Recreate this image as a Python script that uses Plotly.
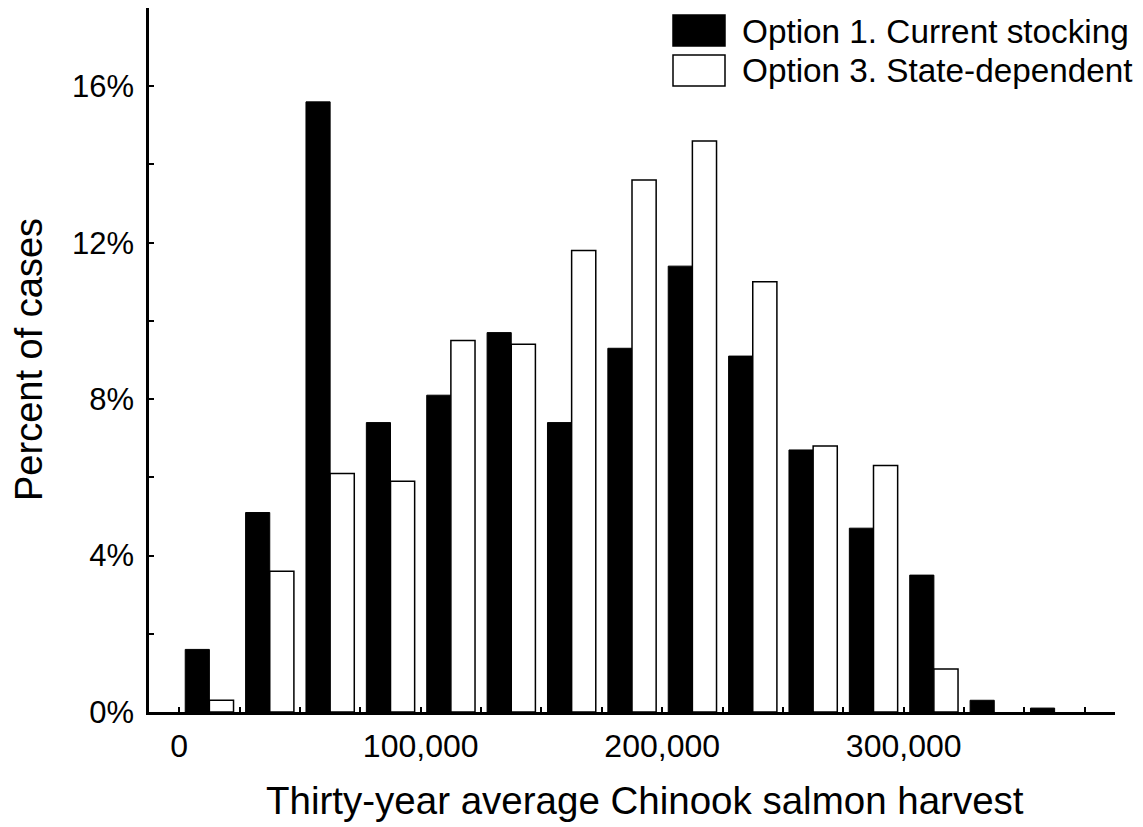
import plotly.graph_objects as go

# Harvest bins (25,000-wide), bin centers
bin_centers = [12500, 37500, 62500, 87500, 112500, 137500, 162500, 187500,
               212500, 237500, 262500, 287500, 312500, 337500, 362500]

# Percent of cases per bin
option1_current = [1.6, 5.1, 15.6, 7.4, 8.1, 9.7, 7.4, 9.3, 11.4, 9.1, 6.7, 4.7, 3.5, 0.3, 0.1]
option3_state = [0.3, 3.6, 6.1, 5.9, 9.5, 9.4, 11.8, 13.6, 14.6, 11.0, 6.8, 6.3, 1.1, None, None]

series_names = ["Option 1. Current stocking", "Option 3. State-dependent"]

x_tickvals = [0, 25000, 50000, 75000, 100000, 125000, 150000, 175000, 200000,
              225000, 250000, 275000, 300000, 325000, 350000, 375000]
x_ticktext = ["0", "", "", "", "100,000", "", "", "", "200,000", "", "", "",
              "300,000", "", "", ""]
y_tickvals = [0, 2, 4, 6, 8, 10, 12, 14, 16, 18]
y_ticktext = ["0%", "", "4%", "", "8%", "", "12%", "", "16%", ""]

FONT = "Liberation Sans, Arial, Helvetica, sans-serif"

# page body has an 8px margin; compensate so plot area lands at x 149-1115, y 8-712
OFF = 8
W, H = 1143 - OFF, 827 - OFF
L, R, T, B = 149 - OFF, 28, 0, 827 - 712
PW, PH = W - L - R, H - T - B


def px(xs):
    return (xs - 149) / PW


def py(ys):
    return (712 - ys) / PH


fig = go.Figure()
fig.add_trace(go.Bar(x=bin_centers, y=option1_current, name=series_names[0],
                     marker=dict(color="black", line=dict(color="black", width=1)),
                     showlegend=False))
fig.add_trace(go.Bar(x=bin_centers, y=option3_state, name=series_names[1],
                     marker=dict(color="white", line=dict(color="black", width=1.5)),
                     showlegend=False))

fig.update_layout(
    width=W, height=H,
    margin=dict(l=L, r=R, t=T, b=B),
    paper_bgcolor="white", plot_bgcolor="white",
    barmode="group", bargap=0.2, bargroupgap=0,
    font=dict(family=FONT, size=32, color="black"),
    xaxis=dict(range=[-12500, 387500], tickmode="array", tickvals=x_tickvals,
               ticktext=x_ticktext, ticks="inside", ticklen=5, tickwidth=2,
               tickcolor="black", showline=True, linecolor="black", linewidth=2.5,
               showgrid=False, zeroline=False, ticklabelstandoff=4,
               tickfont=dict(size=32)),
    yaxis=dict(range=[0, 18], tickmode="array", tickvals=y_tickvals,
               ticktext=y_ticktext, ticks="inside", ticklen=5, tickwidth=2,
               tickcolor="black", showline=True, linecolor="black", linewidth=2.5,
               showgrid=False, zeroline=False, ticklabelstandoff=6,
               tickfont=dict(size=31)),
)

# Axis titles
fig.add_annotation(text="Thirty-year average Chinook salmon harvest", xref="paper", yref="paper",
                   x=px(645), y=py(800), xanchor="center", yanchor="middle",
                   showarrow=False, font=dict(size=38.5, family=FONT))
fig.add_annotation(text="Percent of cases", xref="paper", yref="paper",
                   x=px(29), y=py(360), xanchor="center", yanchor="middle",
                   textangle=-90, showarrow=False, font=dict(size=38, family=FONT))

# Legend (drawn manually to match the large swatches)
fills = ["black", "white"]
box_tops = [15, 55]
for name, fill, top in zip(series_names, fills, box_tops):
    fig.add_shape(type="rect", xref="paper", yref="paper",
                  x0=px(673), x1=px(725), y0=py(top + 31), y1=py(top),
                  fillcolor=fill, line=dict(color="black", width=1.5))
    fig.add_annotation(text=name, xref="paper", yref="paper",
                       x=px(740), y=py(top + 16),
                       xanchor="left", yanchor="middle", showarrow=False,
                       font=dict(size=33.3, family=FONT))

fig.write_html("out.html")
